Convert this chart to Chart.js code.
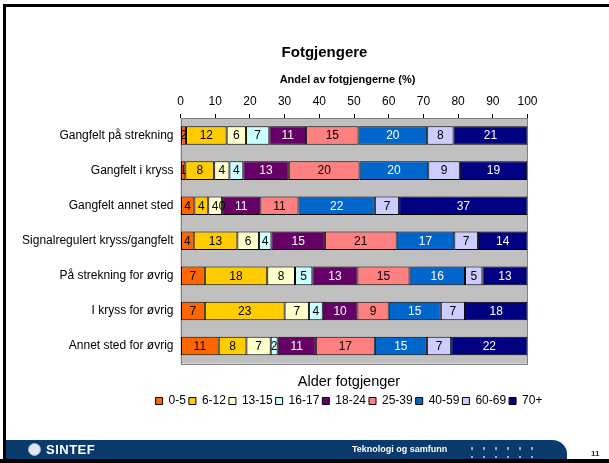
<!DOCTYPE html>
<html>
<head>
<meta charset="utf-8">
<script src="https://cdn.jsdelivr.net/npm/chart.js@4"></script>
<style>
  body { margin: 0; background: #fff; width: 609px; height: 463px; overflow: hidden; position: relative;
         font-family: "Liberation Sans", Arial, sans-serif; }
  #frame { position: absolute; left: 3px; top: 4px; width: 606px; height: 459px;
           border-top: 3px solid #000; border-left: 3px solid #000; box-sizing: border-box; }
  #chart { position: absolute; left: 0; top: 0; }
  #footer { position: absolute; left: 6px; top: 440px; width: 561px; height: 19px; background: #0b3a6c;
            border-top-right-radius: 15px 14px; }
  #bottomline { position: absolute; left: 0; top: 459px; width: 609px; height: 4px; background: #000; }
  #logo { position: absolute; left: 22px; top: 2px; color: #fff; font-weight: bold; font-size: 13px;
          letter-spacing: 0.5px; line-height: 15px; }
  #logo span { display: inline-block; width: 11px; height: 11px; border-radius: 50%; background: #dfe8f3;
               border: 1px solid #9fb3cc; vertical-align: -2px; margin-right: 5px; }
  #dept { position: absolute; left: 346px; top: 4px; color: #fff; font-weight: bold; font-size: 9px; }
  #dots { position: absolute; left: 460px; top: 4px; width: 72px; height: 14px;
          background-image: radial-gradient(circle, #9fb2cd 1.1px, transparent 1.4px);
          background-size: 12px 9px; }
  #page { position: absolute; left: 591px; top: 449px; color: #0b3a6c; font-size: 8px; font-weight: bold; }
</style>
</head>
<body>
<div id="frame"></div>
<canvas id="chart" width="609" height="463"></canvas>
<div id="footer">
  <div id="logo"><span></span>SINTEF</div>
  <div id="dept">Teknologi og samfunn</div>
  <div id="dots"></div>
</div>
<div id="bottomline"></div>
<div id="page">11</div>
<script>
// categories (rows) and age groups (stacked series), shares in %
const categories = [
  "Gangfelt på strekning",
  "Gangfelt i kryss",
  "Gangfelt annet sted",
  "Signalregulert kryss/gangfelt",
  "På strekning for øvrig",
  "I kryss for øvrig",
  "Annet sted for øvrig"
];
const ageGroups = ["0-5", "6-12", "13-15", "16-17", "18-24", "25-39", "40-59", "60-69", "70+"];

const age0_5   = [1.6, 1.4, 4, 3.8, 7, 7, 11];
const age6_12  = [11.7, 8.3, 4, 12.6, 18, 23, 8];
const age13_15 = [5.6, 4.4, 4, 6.2, 8, 7, 7];
const age16_17 = [6.7, 4.0, 0, 3.6, 5, 4, 2];
const age18_24 = [10.6, 13.1, 11, 15.4, 13, 10, 11];
const age25_39 = [15.1, 20.4, 11, 20.7, 15, 9, 17];
const age40_59 = [19.8, 19.8, 22, 16.6, 16, 15, 15];
const age60_69 = [7.6, 9.1, 7, 6.8, 5, 7, 7];
const age70    = [21.3, 19.4, 37, 14.3, 13, 18, 22];

const xTicks = [0, 10, 20, 30, 40, 50, 60, 70, 80, 90, 100];

const colors = ["#ff6600", "#ffcc00", "#ffffcc", "#ccffff", "#660066", "#ff8080", "#0066cc", "#ccccff", "#000080"];
const labelColors = ["#000", "#000", "#000", "#000", "#fff", "#000", "#fff", "#000", "#fff"];

const FONT = '"Liberation Sans", Arial, sans-serif';
const series = [age0_5, age6_12, age13_15, age16_17, age18_24, age25_39, age40_59, age60_69, age70];

const datasets = series.map(function(vals, i) {
  return {
    label: ageGroups[i],
    data: vals,
    backgroundColor: colors[i],
    borderColor: "#000",
    borderWidth: 1,
    borderSkipped: false,
    barPercentage: 1,
    categoryPercentage: 0.53
  };
});

// let the long row labels run left of the narrow y axis box
const yLabelRoom = {
  id: "yLabelRoom",
  afterLayout: function(chart) {
    chart.scales.y.left = 0;
  }
};

// gray plot area with border
const plotBg = {
  id: "plotBg",
  beforeDatasetsDraw: function(chart) {
    const a = chart.chartArea, ctx = chart.ctx;
    ctx.save();
    ctx.fillStyle = "#c0c0c0";
    ctx.fillRect(a.left, a.top, a.right - a.left, a.bottom - a.top);
    ctx.strokeStyle = "#808080";
    ctx.lineWidth = 1;
    ctx.strokeRect(Math.round(a.left) + 0.5, Math.round(a.top) + 0.5,
                   Math.round(a.right - a.left) - 1, Math.round(a.bottom - a.top));
    ctx.restore();
  }
};

// value labels inside segments
const valueLabels = {
  id: "valueLabels",
  afterDatasetsDraw: function(chart) {
    const ctx = chart.ctx;
    ctx.save();
    ctx.font = "12px " + FONT;
    ctx.textAlign = "center";
    ctx.textBaseline = "middle";
    chart.data.datasets.forEach(function(ds, i) {
      chart.getDatasetMeta(i).data.forEach(function(bar, j) {
        ctx.fillStyle = labelColors[i];
        ctx.fillText(String(Math.round(ds.data[j])), (bar.x + bar.base) / 2, bar.y + 0.5);
      });
    });
    ctx.restore();
  }
};

// chart title and axis title
const headings = {
  id: "headings",
  afterDraw: function(chart) {
    const ctx = chart.ctx;
    ctx.save();
    ctx.fillStyle = "#000";
    ctx.textAlign = "center";
    ctx.textBaseline = "middle";
    ctx.font = "bold 15px " + FONT;
    ctx.fillText("Fotgjengere", 324.5, 53);
    ctx.font = "bold 11px " + FONT;
    ctx.fillText("Andel av fotgjengerne (%)", 347.5, 80);
    ctx.restore();
  }
};

new Chart(document.getElementById("chart"), {
  type: "bar",
  data: { labels: categories, datasets: datasets },
  plugins: [yLabelRoom, plotBg, valueLabels, headings],
  options: {
    indexAxis: "y",
    responsive: false,
    animation: false,
    layout: { padding: { left: 150, right: 61, top: 92, bottom: 46 } },
    scales: {
      x: {
        position: "top",
        stacked: true,
        min: 0,
        max: 100,
        afterFit: function(s) { s.height = 26; },
        afterBuildTicks: function(s) { s.ticks = xTicks.map(function(v) { return { value: v }; }); },
        grid: { display: true, drawOnChartArea: false, drawTicks: true, tickLength: 4, color: "#000" },
        border: { display: false },
        ticks: { color: "#000", padding: 5, font: { family: FONT, size: 12 } }
      },
      y: {
        stacked: true,
        afterFit: function(s) { s.width = 30.5; },
        grid: { display: false, drawTicks: false },
        border: { display: false },
        ticks: { color: "#000", padding: 7, font: { family: FONT, size: 12 } }
      },
      yRight: {
        type: "linear",
        position: "right",
        afterFit: function(s) { s.width = 20.5; },
        grid: { display: false, drawTicks: false },
        border: { display: false },
        ticks: { display: false }
      }
    },
    plugins: {
      title: { display: false },
      tooltip: { enabled: false },
      legend: {
        position: "bottom",
        title: { display: true, text: "Alder fotgjenger", color: "#000",
                 font: { family: FONT, size: 14.5 }, padding: { top: 11, bottom: 0 } },
        labels: { boxWidth: 7, boxHeight: 7, padding: 3, color: "#000",
                  font: { family: FONT, size: 12 } }
      }
    }
  }
});
</script>
</body>
</html>
